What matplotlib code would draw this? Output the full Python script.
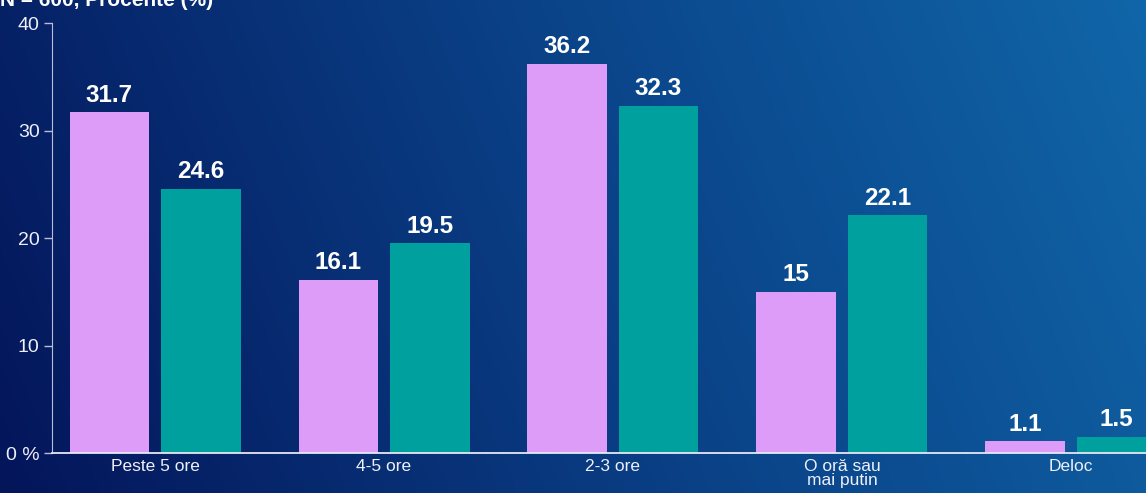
import numpy as np
import matplotlib.pyplot as plt
from matplotlib.colors import LinearSegmentedColormap

categories = ["Peste 5 ore", "4-5 ore", "2-3 ore", "O oră sau\nmai putin", "Deloc"]
series_a = [31.7, 16.1, 36.2, 15, 1.1]
series_b = [24.6, 19.5, 32.3, 22.1, 1.5]
yticks = [0, 10, 20, 30, 40]
ytick_labels = ["0 %", "10", "20", "30", "40"]
title = "N = 600, Procente (%)"

plt.rcParams['font.family'] = ['Liberation Sans', 'DejaVu Sans']

fig = plt.figure(figsize=(11.46, 4.93), dpi=100)

# background gradient
bg = fig.add_axes([0, 0, 1, 1], zorder=-10)
gx, gy = np.meshgrid(np.linspace(0, 1, 400), np.linspace(0, 1, 200))
grad = 0.85 * gx + 0.15 * gy
cmap = LinearSegmentedColormap.from_list("bg", ["#04155a", "#0a3f85", "#1066a8"])
bg.imshow(grad, cmap=cmap, aspect='auto', extent=[0, 1, 0, 1], origin='lower')
bg.axis('off')

# title is cut at the top edge, as in the source image
fig.text(0.0, 1.0, title, color='white', fontsize=15, fontweight='bold',
         ha='left', va='center')

ax = fig.add_axes([0.0454, 0.0811, 0.9546, 0.8722])
ax.patch.set_alpha(0)

x = np.arange(len(categories))
w = 0.349
off = 0.199
pink = "#dc9cf8"
teal = "#00a09f"
ba = ax.bar(x - off, series_a, w, color=pink, zorder=3)
bb = ax.bar(x + off, series_b, w, color=teal, zorder=3)

for bars, vals in ((ba, series_a), (bb, series_b)):
    for r, v in zip(bars, vals):
        ax.annotate(f"{v:g}", (r.get_x() + r.get_width() / 2, r.get_height()),
                    xytext=(0, 4), textcoords='offset points', ha='center',
                    va='bottom', color='white', fontsize=17.5, fontweight='bold',
                    clip_on=False)

ax.set_xlim(-0.45, 4.328)
ax.set_ylim(0, 40)
ax.set_xticks(x)
ax.set_xticklabels(categories, color='#eef0f8', fontsize=12.5, linespacing=0.95)
ax.tick_params(axis='x', length=0, pad=4)
ax.set_yticks(yticks)
ax.set_yticklabels(ytick_labels, color='#eef0f8', fontsize=14)
ax.tick_params(axis='y', length=6, color='#b8bfd6', width=1, pad=3)

for s in ('top', 'right'):
    ax.spines[s].set_visible(False)
ax.spines['left'].set_color('#b8bfd6')
ax.spines['bottom'].set_color('#e6e8f2')
ax.spines['bottom'].set_linewidth(1.3)
ax.spines['bottom'].set_zorder(4)

plt.savefig("out.png", dpi=100)
